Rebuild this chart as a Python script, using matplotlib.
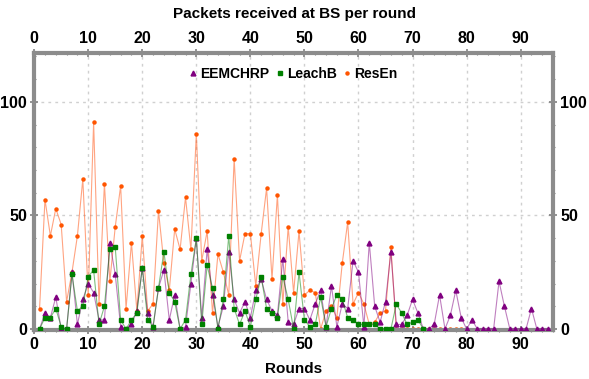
import matplotlib
matplotlib.use("Agg")
import matplotlib.pyplot as plt
from matplotlib.ticker import MultipleLocator

plt.rcParams["font.family"] = ["Liberation Sans", "DejaVu Sans"]

# Packets per round
eemchrpRounds = list(range(1, 96))
eemchrp = [0, 7, 5, 14, 0, 0, 25, 2, 13, 20,
           16, 4, 4, 38, 24, 1, 0, 2, 8, 27,
           7, 1, 18, 26, 4, 15, 0, 1, 20, 40,
           5, 35, 15, 1, 10, 34, 13, 7, 12, 5,
           17, 22, 13, 8, 6, 31, 3, 2, 9, 9,
           4, 11, 17, 1, 19, 1, 11, 9, 30, 25,
           1, 38, 10, 3, 12, 34, 2, 2, 6, 13,
           7, 0, 0, 2, 15, 0, 6, 17, 5, 0,
           4, 0, 0, 0, 0, 21, 10, 0, 0, 0,
           0, 9, 0, 0, 0]

leachbRounds = list(range(1, 73))
leachb = [0, 5, 5, 9, 1, 0, 24, 8, 10, 23,
          26, 2, 10, 35, 36, 4, 0, 4, 7, 27,
          4, 1, 18, 34, 16, 12, 0, 4, 24, 40,
          2, 28, 18, 0, 13, 41, 9, 2, 8, 1,
          13, 23, 9, 7, 5, 23, 13, 0, 25, 4,
          1, 2, 14, 1, 9, 15, 13, 5, 4, 2,
          2, 2, 2, 0, 0, 0, 11, 7, 2, 3,
          4, 0]

resenRounds = list(range(1, 80))
resen = [9, 57, 41, 53, 46, 12, 25, 41, 66, 15,
         91, 11, 64, 21, 45, 63, 9, 38, 8, 41,
         8, 11, 52, 29, 17, 44, 35, 58, 35, 86,
         30, 43, 7, 33, 25, 15, 75, 30, 42, 42,
         19, 42, 62, 22, 59, 11, 45, 16, 43, 15,
         17, 16, 0, 8, 10, 5, 29, 47, 11, 16,
         11, 2, 3, 7, 8, 36, 0, 0, 0, 0,
         0, 0, 0, 0, 0, 0, 0, 0, 0]

fig = plt.figure(figsize=(5.89, 3.79), dpi=100)
ax = fig.add_axes([0.058, 0.129, 0.881, 0.731])

# lines are drawn lighter than the markers
ax.plot(eemchrpRounds, eemchrp, color=(0.5, 0.0, 0.5, 0.5), lw=0.8,
        marker="^", ms=3.5, mfc="#800080", mec="#800080", label="EEMCHRP", zorder=3)
ax.plot(leachbRounds, leachb, color=(0.0, 0.5, 0.0, 0.5), lw=0.8,
        marker="s", ms=3, mfc="#008000", mec="#008000", label="LeachB", zorder=3)
ax.plot(resenRounds, resen, color=(1.0, 0.35, 0.1, 0.55), lw=0.8,
        marker="o", ms=2.2, mfc="#ff5500", mec="#ff5500", label="ResEn", zorder=2)

ax.set_xlim(0, 96)
ax.set_ylim(-0.5, 121.5)

ax.xaxis.set_major_locator(MultipleLocator(10))
ax.xaxis.set_minor_locator(MultipleLocator(2))
ax.yaxis.set_major_locator(MultipleLocator(50))
ax.yaxis.set_minor_locator(MultipleLocator(10))

ax.tick_params(which="both", top=True, right=True, labeltop=True, labelright=True,
               direction="inout", color="#808080", labelsize=11.5)
ax.tick_params(which="major", length=6, width=1.2, pad=2)
ax.tick_params(which="minor", length=3, width=0.8)
for lab in ax.get_xticklabels() + ax.get_yticklabels():
    lab.set_fontweight("bold")

for side in ax.spines.values():
    side.set_color("#8c8c8c")
    side.set_linewidth(3)

ax.grid(True, which="major", linestyle=(0, (2, 3)), color="#d0d0d0", linewidth=1)

ax.set_xlabel("Rounds", fontsize=11, fontweight="bold", labelpad=7)
fig.text(0.5, 0.962, "Packets received at BS per round", ha="center", va="center",
         fontsize=11, fontweight="bold")

leg = ax.legend(loc="upper center", ncol=3, frameon=False,
                prop={"weight": "bold", "size": 10}, handlelength=0.5, handletextpad=0.25,
                columnspacing=0.5, borderaxespad=0.6, markerscale=1.0)
for h in leg.legend_handles:
    h.set_linestyle("none")

fig.savefig("out.png", dpi=100)
